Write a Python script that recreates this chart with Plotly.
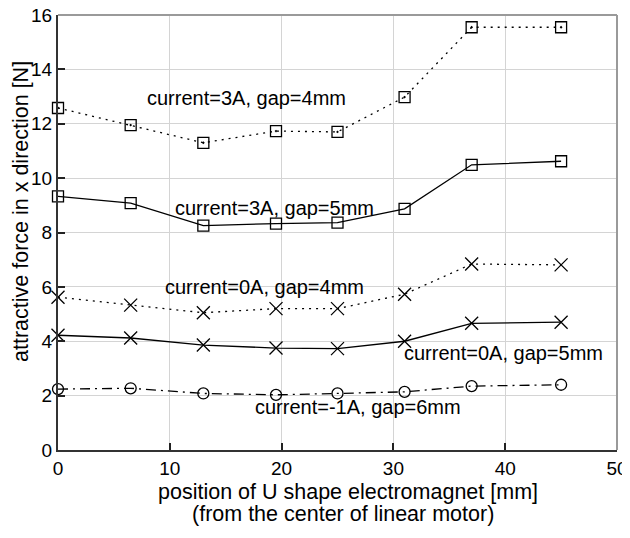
import plotly.graph_objects as go

positions = [0, 6.5, 13, 19.5, 25, 31, 37, 45]
force_3A_4mm = [12.58, 11.95, 11.3, 11.73, 11.7, 12.98, 15.55, 15.55]
force_3A_5mm = [9.33, 9.08, 8.25, 8.33, 8.36, 8.87, 10.49, 10.62]
force_0A_4mm = [5.62, 5.33, 5.05, 5.2, 5.2, 5.73, 6.84, 6.81]
force_0A_5mm = [4.22, 4.12, 3.86, 3.75, 3.73, 4.0, 4.66, 4.7]
force_m1A_6mm = [2.24, 2.27, 2.08, 2.03, 2.08, 2.14, 2.35, 2.4]

labels = ["current=3A, gap=4mm", "current=3A, gap=5mm", "current=0A, gap=4mm",
          "current=0A, gap=5mm", "current=-1A, gap=6mm"]
label_x = [7.8, 10.3, 9.4, 30.8, 17.4]
label_y = [12.95, 8.9, 6.0, 3.55, 1.6]

FONT = "Liberation Sans, Arial, sans-serif"

fig = go.Figure()

series = [
    (force_3A_4mm, "2px,5px", "square-open-dot", 11),
    (force_3A_5mm, "solid", "square-open", 11),
    (force_0A_4mm, "2px,5px", "x-thin-open", 13),
    (force_0A_5mm, "solid", "x-thin-open", 13),
    (force_m1A_6mm, "10px,5px,2px,5px", "circle-open", 11),
]
for ys, dash, sym, size in series:
    fig.add_trace(go.Scatter(
        x=positions, y=ys, mode="lines+markers",
        line=dict(color="black", width=1.3, dash=dash),
        marker=dict(symbol=sym, size=size, color="black",
                    line=dict(color="black", width=1.3)),
        showlegend=False, cliponaxis=False,
    ))

for t, x, y in zip(labels, label_x, label_y):
    fig.add_annotation(x=x, y=y, text=t, showarrow=False, xanchor="left",
                       yanchor="middle", font=dict(family=FONT, size=20, color="black"))

# plot area (page px): x 58..617, y 15..450  (width 559, height 435)
fig.add_annotation(xref="paper", yref="paper", x=(348 - 58) / 559, y=(450 - 492) / 435,
                   yanchor="middle", text="position of U shape electromagnet [mm]",
                   showarrow=False, font=dict(family=FONT, size=21.5, color="black"))
fig.add_annotation(xref="paper", yref="paper", x=(343 - 58) / 559, y=(450 - 514) / 435,
                   yanchor="middle", text="(from the center of linear motor)",
                   showarrow=False, font=dict(family=FONT, size=21.5, color="black"))
fig.add_annotation(xref="paper", yref="paper", x=(21 - 58) / 559, y=(450 - 212) / 435,
                   xanchor="center", yanchor="middle", textangle=-90,
                   text="attractive force in x direction [N]",
                   showarrow=False, font=dict(family=FONT, size=21.5, color="black"))

# top and right border (lighter)
fig.add_shape(type="line", xref="paper", yref="paper", x0=0, x1=1, y0=1, y1=1,
              line=dict(color="#9a9a9a", width=2))
fig.add_shape(type="line", xref="paper", yref="paper", x0=1, x1=1, y0=0, y1=1,
              line=dict(color="#9a9a9a", width=2))

# the page body has an 8px margin, so the figure is offset by (8, 8)
fig.update_layout(
    width=622, height=530,
    margin=dict(l=50, r=13, t=7, b=88, autoexpand=False),
    plot_bgcolor="white", paper_bgcolor="white",
    font=dict(family=FONT, size=19, color="black"),
    xaxis=dict(range=[0, 50], dtick=10, showgrid=True, gridcolor="#d4d4d4", gridwidth=1,
               zeroline=False, showline=True, linecolor="#333333", linewidth=2,
               ticks="inside", ticklen=7, tickcolor="#222222", tickwidth=1.5,
               automargin=False, ticklabeloverflow="allow",
               tickfont=dict(size=19, color="black")),
    yaxis=dict(range=[0, 16], dtick=2, showgrid=True, gridcolor="#d4d4d4", gridwidth=1,
               zeroline=False, showline=True, linecolor="#333333", linewidth=2,
               ticks="inside", ticklen=7, tickcolor="#222222", tickwidth=1.5,
               automargin=False, ticklabeloverflow="allow",
               tickfont=dict(size=19, color="black")),
)

fig.write_html("out.html")
